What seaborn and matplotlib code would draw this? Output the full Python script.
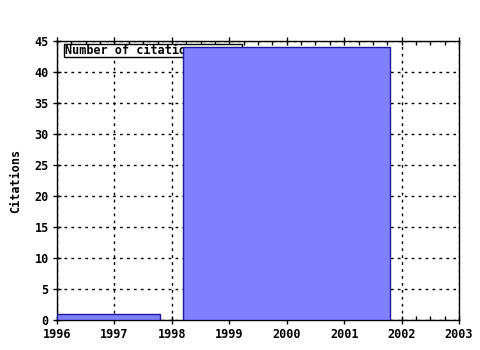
import matplotlib
matplotlib.use("Agg")
import matplotlib.pyplot as plt
import seaborn as sns
from matplotlib.ticker import MultipleLocator
from matplotlib.patches import Rectangle

# Data
bar_left = [1996.0, 1998.2]
bar_right = [1997.8, 2001.8]
citations = [1, 44]
year_ticks = [1996, 1997, 1998, 1999, 2000, 2001, 2002, 2003]
y_ticks = [0, 5, 10, 15, 20, 25, 30, 35, 40, 45]
legend_label = "Number of citations"
y_label = "Citations"

sns.set_style("white")
plt.rcParams['font.family'] = ['DejaVu Sans Mono']
plt.rcParams['font.weight'] = 'bold'
plt.rcParams['text.color'] = 'black'
plt.rcParams['axes.labelcolor'] = 'black'
plt.rcParams['xtick.color'] = 'black'
plt.rcParams['ytick.color'] = 'black'

fig = plt.figure(figsize=(4.8, 3.5), dpi=100)
ax = fig.add_axes([57/480, 30/350, (459-57)/480, (320-41)/350])

widths = [r - l for l, r in zip(bar_left, bar_right)]
ax.bar(bar_left, citations, width=widths, align='edge', color='#8080ff',
       edgecolor='#1a1a9a', linewidth=1, zorder=3)

ax.set_xlim(1996, 2003)
ax.set_ylim(0, 45)
ax.set_xticks(year_ticks)
ax.set_yticks(y_ticks)
ax.set_xticklabels([str(y) for y in year_ticks], fontsize=8.5, fontweight='bold')
ax.set_yticklabels([str(v) for v in y_ticks], fontsize=8.5, fontweight='bold')
ax.xaxis.set_minor_locator(MultipleLocator(0.25))

ax.grid(True, which='major', color='black', linestyle=(0, (2, 3)), linewidth=1, zorder=0)
ax.set_axisbelow(True)
for s in ax.spines.values():
    s.set_color('black')
    s.set_linewidth(1)

ax.tick_params(axis='x', which='major', direction='inout', length=6, width=1,
               top=True, bottom=True, pad=3, colors='black')
ax.tick_params(axis='x', which='minor', direction='in', length=3, width=1,
               top=True, bottom=True, colors='black')
ax.tick_params(axis='y', which='major', direction='inout', length=6, width=1,
               left=True, right=False, pad=3, colors='black')

ax.set_ylabel(y_label, fontsize=8.5, fontweight='bold', labelpad=9, color='black')

# legend box (drawn beneath the bars, as in the reference)
ax.add_patch(Rectangle((1996.12, 42.42), 3.1, 2.1, facecolor='white',
                       edgecolor='black', linewidth=1, zorder=1))
ax.text(1996.14, 43.45, legend_label, fontsize=8.5, fontweight='bold', va='center',
        ha='left', zorder=1.5, color='black')

fig.savefig("out.png", dpi=100)
